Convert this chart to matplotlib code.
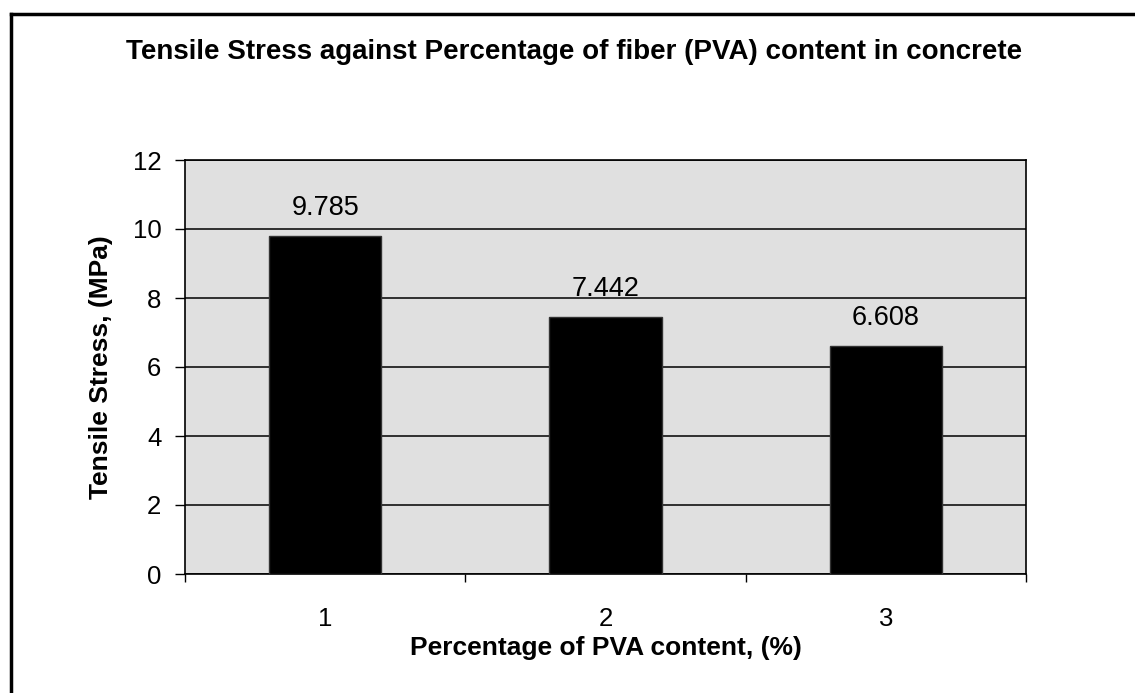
import numpy as np
import matplotlib.pyplot as plt
from matplotlib.lines import Line2D

plt.rcParams['font.family'] = ['Liberation Sans', 'DejaVu Sans']

categories = ['1', '2', '3']
stress = [9.785, 7.442, 6.608]
labels = ['9.785', '7.442', '6.608']
y_ticks = [0, 2, 4, 6, 8, 10, 12]

W, H = 1135, 693
fig = plt.figure(figsize=(W / 100, H / 100), dpi=100)
fig.patch.set_facecolor('white')

# plot area in pixels: left 185, right 1026, top 160, bottom 574
ax = fig.add_axes([185 / W, 1 - 574 / H, (1026 - 185) / W, (574 - 160) / H])
ax.set_facecolor('#e0e0e0')

x = np.arange(len(categories))
ax.bar(x, stress, width=0.40, color='black', edgecolor='#333333', linewidth=1, zorder=3)

for xi, v, lab in zip(x, stress, labels):
    ax.annotate(lab, (xi, v), xytext=(0, 11), textcoords='offset points',
                ha='center', va='bottom', fontsize=19.5, zorder=4)

ax.set_xlim(-0.5, 2.5)
ax.set_ylim(0, 12)
ax.set_yticks(y_ticks)
ax.set_yticklabels([str(t) for t in y_ticks], fontsize=18.5)
ax.yaxis.grid(True, color='black', linewidth=1.1, zorder=1)
ax.set_axisbelow(True)

ax.set_xticks(x)
ax.set_xticklabels(categories, fontsize=18.5)
ax.set_xticks([-0.5, 0.5, 1.5, 2.5], minor=True)
ax.tick_params(axis='x', which='major', length=0, pad=24)
ax.tick_params(axis='x', which='minor', length=6, width=1, direction='out', color='black')
ax.tick_params(axis='y', length=7, width=1, direction='out', pad=10)

for s in ['left', 'bottom', 'top', 'right']:
    ax.spines[s].set_linewidth(1.2)
    ax.spines[s].set_color('black')

ax.set_xlabel('Percentage of PVA content, (%)', fontsize=19, fontweight='bold', labelpad=3)
ax.set_ylabel('Tensile Stress, (MPa)', fontsize=19, fontweight='bold', labelpad=14)

fig.text(574 / W, 1 - 52 / H, 'Tensile Stress against Percentage of fiber (PVA) content in concrete',
         ha='center', va='center', fontsize=20, fontweight='bold')

# outer frame (left and top edges visible)
fig.add_artist(Line2D([11 / W, 11 / W], [0, 1 - 14 / H], color='black', linewidth=2.5,
                      transform=fig.transFigure))
fig.add_artist(Line2D([11 / W, 1], [1 - 14 / H, 1 - 14 / H], color='black', linewidth=2.5,
                      transform=fig.transFigure))

fig.savefig('out.png', dpi=100)
